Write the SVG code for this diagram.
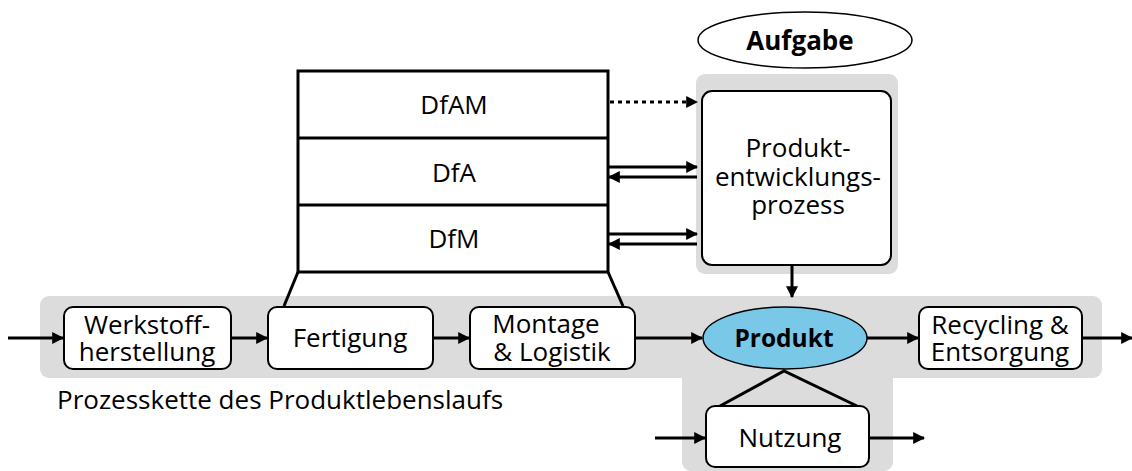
<svg xmlns="http://www.w3.org/2000/svg" width="1132" height="471" viewBox="0 0 1132 471">
  <style>
    text { font-family: "Open Sans", "Noto Sans", "Liberation Sans", sans-serif; fill: #000; text-anchor: middle; }
    .lbl { font-size: 26px; }
    .bold { font-weight: bold; }
    .box { fill: #fff; stroke: #000; stroke-width: 2; }
    .band { fill: #dcdcdc; }
    .line { stroke: #000; stroke-width: 3; fill: none; }
    .arrow { stroke: #000; stroke-width: 3; fill: none; marker-end: url(#head); }
  </style>
  <defs>
    <marker id="head" viewBox="0 0 10 10" refX="9" refY="5" markerWidth="4" markerHeight="4" orient="auto" markerUnits="strokeWidth">
      <path d="M0,0 L10,5 L0,10 Z" fill="#000"/>
    </marker>
  </defs>

  <!-- background bands -->
  <g id="bands">
    <rect class="band" x="40" y="296" width="1062" height="82" rx="9"/>
    <rect class="band" x="682" y="370" width="211" height="101" rx="9"/>
    <rect class="band" x="696" y="74" width="202" height="200" rx="9"/>
  </g>

  <!-- connectors -->
  <g id="connectors">
    <line class="arrow" x1="8" y1="338" x2="63" y2="338"/>
    <line class="arrow" x1="231" y1="338" x2="267" y2="338"/>
    <line class="arrow" x1="433" y1="338" x2="469" y2="338"/>
    <line class="arrow" x1="635" y1="338" x2="702" y2="338"/>
    <line class="arrow" x1="867" y1="338" x2="918" y2="338"/>
    <line class="arrow" x1="1082" y1="338" x2="1132" y2="338"/>
    <line class="arrow" x1="655" y1="438" x2="705" y2="438"/>
    <line class="arrow" x1="869" y1="438" x2="924" y2="438"/>
    <line class="arrow" x1="792" y1="266" x2="792" y2="297"/>
    <line class="arrow" x1="610" y1="102" x2="697" y2="102" stroke-dasharray="4 4"/>
    <line class="arrow" x1="608" y1="167" x2="697" y2="167"/>
    <line class="arrow" x1="697" y1="177" x2="609" y2="177"/>
    <line class="arrow" x1="608" y1="234" x2="697" y2="234"/>
    <line class="arrow" x1="697" y1="244" x2="609" y2="244"/>
    <!-- stack supports -->
    <line class="line" x1="298" y1="272" x2="284" y2="306"/>
    <line class="line" x1="608" y1="272" x2="623" y2="306"/>
    <!-- Produkt to Nutzung -->
    <polyline class="line" points="720,406 784,371 857,406" stroke-width="2.5"/>
  </g>

  <g id="aufgabe">
    <ellipse cx="805" cy="40" rx="107" ry="28" fill="#fff" stroke="#000" stroke-width="1.5"/>
    <text class="lbl bold" x="800" y="50">Aufgabe</text>
  </g>

  <g id="dfx-stack">
    <rect x="298" y="71" width="310" height="201" fill="#fff" stroke="#000" stroke-width="3"/>
    <line class="line" x1="298" y1="138" x2="608" y2="138"/>
    <line class="line" x1="298" y1="205" x2="608" y2="205"/>
    <text class="lbl" x="454" y="114">DfAM</text>
    <text class="lbl" x="454" y="182">DfA</text>
    <text class="lbl" x="454" y="248">DfM</text>
  </g>

  <g id="produktentwicklung">
    <rect class="box" x="702" y="91" width="189" height="174" rx="10"/>
    <text class="lbl" x="798" y="157">Produkt-</text>
    <text class="lbl" x="798" y="186">entwicklungs-</text>
    <text class="lbl" x="798" y="214">prozess</text>
  </g>

  <g id="werkstoff">
    <rect class="box" x="64" y="307" width="167" height="62" rx="9"/>
    <text class="lbl" x="147" y="334">Werkstoff-</text>
    <text class="lbl" x="147" y="361">herstellung</text>
  </g>

  <g id="fertigung">
    <rect class="box" x="268" y="307" width="165" height="62" rx="9"/>
    <text class="lbl" x="350" y="347">Fertigung</text>
  </g>

  <g id="montage">
    <rect class="box" x="470" y="307" width="165" height="62" rx="9"/>
    <text class="lbl" x="546" y="333">Montage</text>
    <text class="lbl" x="552" y="361">&amp; Logistik</text>
  </g>

  <g id="produkt">
    <ellipse cx="785" cy="338" rx="82" ry="31" fill="#79c8e8" stroke="#000" stroke-width="1.5"/>
    <text class="bold" font-size="24.5" x="784" y="347">Produkt</text>
  </g>

  <g id="recycling">
    <rect class="box" x="919" y="307" width="163" height="62" rx="9"/>
    <text class="lbl" x="1000" y="334">Recycling &amp;</text>
    <text class="lbl" x="1000" y="361">Entsorgung</text>
  </g>

  <g id="nutzung">
    <rect class="box" x="706" y="406" width="163" height="61" rx="9"/>
    <text class="lbl" x="790" y="447">Nutzung</text>
  </g>

  <text x="57" y="409" font-size="26" style="text-anchor:start">Prozesskette des Produktlebenslaufs</text>
</svg>
